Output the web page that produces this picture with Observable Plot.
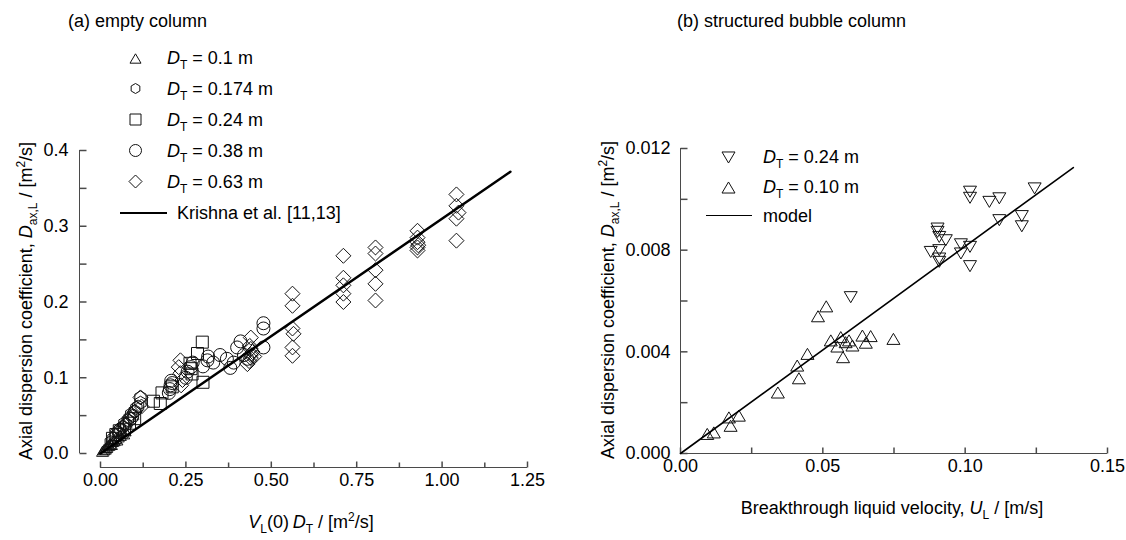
<!DOCTYPE html>
<html>
<head>
<meta charset="utf-8">
<script src="https://cdn.jsdelivr.net/npm/d3@7"></script>
<script src="https://cdn.jsdelivr.net/npm/@observablehq/plot@0.6"></script>
<style>
html,body{margin:0;padding:0;background:#fff;}
#chart{position:relative;width:1126px;height:540px;overflow:hidden;font-family:"Liberation Sans",Arial,sans-serif;color:#000;}
#chart svg{position:absolute;left:0;top:0;}
.t{position:absolute;font-size:18px;line-height:18px;white-space:nowrap;}
.t sub{font-size:12px;line-height:0;vertical-align:-5px;}
.t sup{font-size:12px;line-height:0;vertical-align:7px;}
.sw{position:absolute;height:0;}
</style>
</head>
<body>
<div id="chart"></div>
<script>
// ---------------- data: panel (a) empty column ----------------
// [V_L(0)*D_T, D_ax,L]
const dt010 = [[0.006,0.003],[0.010,0.005],[0.014,0.006],[0.018,0.008],[0.020,0.010],[0.025,0.011],[0.028,0.013],[0.032,0.012],[0.035,0.016],[0.040,0.017],[0.044,0.020],[0.048,0.018],[0.052,0.022],[0.058,0.024],[0.062,0.027],[0.068,0.026],[0.072,0.030]];
const dt0174 = [[0.030,0.015],[0.038,0.020],[0.045,0.024],[0.052,0.028],[0.058,0.032],[0.065,0.035],[0.070,0.040],[0.075,0.038],[0.080,0.044],[0.085,0.047],[0.090,0.052],[0.095,0.050],[0.100,0.056],[0.105,0.060],[0.110,0.062],[0.117,0.067],[0.117,0.074]];
const dt024 = [[0.035,0.020],[0.045,0.025],[0.055,0.030],[0.070,0.032],[0.085,0.040],[0.100,0.046],[0.155,0.069],[0.175,0.066],[0.180,0.080],[0.210,0.088],[0.262,0.119],[0.265,0.112],[0.268,0.105],[0.284,0.132],[0.298,0.147],[0.300,0.094]];
const dt038 = [[0.200,0.080],[0.203,0.085],[0.205,0.090],[0.207,0.096],[0.210,0.093],[0.250,0.100],[0.255,0.108],[0.265,0.114],[0.270,0.120],[0.300,0.115],[0.313,0.123],[0.315,0.128],[0.330,0.120],[0.350,0.130],[0.370,0.125],[0.380,0.113],[0.390,0.120],[0.400,0.140],[0.410,0.148],[0.420,0.130],[0.430,0.125],[0.477,0.140],[0.477,0.165],[0.477,0.172]];
const dt063 = [[0.050,0.030],[0.070,0.038],[0.090,0.045],[0.100,0.055],[0.117,0.074],[0.120,0.062],
  [0.229,0.114],[0.234,0.123],[0.234,0.106],[0.240,0.097],[0.236,0.090],
  [0.430,0.118],[0.435,0.122],[0.440,0.126],[0.440,0.130],[0.445,0.134],[0.440,0.138],[0.437,0.142],[0.440,0.153],[0.450,0.128],
  [0.562,0.211],[0.562,0.195],[0.562,0.165],[0.565,0.158],[0.562,0.140],[0.562,0.129],
  [0.711,0.261],[0.711,0.232],[0.711,0.222],[0.711,0.211],[0.711,0.200],
  [0.805,0.272],[0.805,0.264],[0.805,0.242],[0.805,0.224],[0.805,0.202],
  [0.928,0.294],[0.928,0.285],[0.928,0.279],[0.928,0.272],[0.928,0.268],[0.930,0.275],
  [1.042,0.342],[1.042,0.327],[1.048,0.318],[1.042,0.310],[1.042,0.281]];
const krishna = [[0, 0], [1.2, 0.372]];
const aXTicks = [0, 0.25, 0.5, 0.75, 1.0, 1.25];
const aXMinor = [0.125, 0.375, 0.625, 0.875, 1.125];
const aYTicks = [0, 0.1, 0.2, 0.3, 0.4];
const aYMinor = [0.05, 0.15, 0.25, 0.35];

// ---------------- data: panel (b) structured bubble column ----------------
// [U_L, D_ax,L]
const sb024 = [[0.0598,0.00615],[0.0879,0.00793],[0.0903,0.00885],[0.0903,0.00872],[0.0909,0.00852],[0.0932,0.00839],[0.0909,0.00800],[0.0909,0.00767],[0.0909,0.00754],[0.0985,0.00823],[0.0985,0.00787],[0.1017,0.00813],[0.1017,0.00737],[0.1017,0.01030],[0.1017,0.01006],[0.1085,0.00990],[0.1120,0.01004],[0.1120,0.00918],[0.1199,0.00934],[0.1199,0.00894],[0.1244,0.01043]];
const sb010 = [[0.0094,0.00077],[0.0117,0.00083],[0.0170,0.00142],[0.0176,0.00109],[0.0205,0.00149],[0.0342,0.00240],[0.0410,0.00346],[0.0416,0.00296],[0.0446,0.00392],[0.0483,0.00540],[0.0512,0.00579],[0.0528,0.00445],[0.0551,0.00421],[0.0563,0.00458],[0.0571,0.00379],[0.0580,0.00438],[0.0592,0.00445],[0.0604,0.00425],[0.0639,0.00464],[0.0651,0.00436],[0.0668,0.00462],[0.0748,0.00451]];
const model = [[0, 0], [0.138, 0.01125]];
const bXTicks = [0, 0.05, 0.10, 0.15];
const bXMinor = [0.025, 0.075, 0.125];
const bYTicks = [0, 0.004, 0.008, 0.012];
const bYMinor = [0.002, 0.006, 0.010];

// ---------------- styling ----------------
const FONT = '"Liberation Sans", Arial, sans-serif';
const INK = "#111";
const AX = "#4a4a4a";

function sym(fn) { return {draw(c, size) { fn(c, Math.sqrt(size / Math.PI)); }}; }
const triUp = sym((c, r) => { const h = r * 0.85; c.moveTo(0, -h); c.lineTo(r, h); c.lineTo(-r, h); c.closePath(); });
const triDown = sym((c, r) => { const h = r * 0.85; c.moveTo(0, h); c.lineTo(r, -h); c.lineTo(-r, -h); c.closePath(); });
const square = sym((c, r) => { c.moveTo(-r, -r); c.lineTo(r, -r); c.lineTo(r, r); c.lineTo(-r, r); c.closePath(); });
const circle = sym((c, r) => { c.moveTo(r, 0); c.arc(0, 0, r, 0, 2 * Math.PI); c.closePath(); });
const diamond = sym((c, r) => { c.moveTo(0, -r); c.lineTo(r, 0); c.lineTo(0, r); c.lineTo(-r, 0); c.closePath(); });
const hexagon = sym((c, r) => { for (let k = 0; k < 6; k++) { const a = -Math.PI / 2 + k * Math.PI / 3; const x = r * Math.cos(a), y = r * Math.sin(a); if (k) c.lineTo(x, y); else c.moveTo(x, y); } c.closePath(); });
const tickRight = len => ({draw(c) { c.moveTo(0, 0); c.lineTo(len, 0); }});
const tickUp = len => ({draw(c) { c.moveTo(0, 0); c.lineTo(0, -len); }});

const X = d => d[0], Y = d => d[1];
const pts = (data, symbol, r) => Plot.dot(data, {x: X, y: Y, symbol, r, stroke: INK, fill: "none", strokeWidth: 1});
const legendDot = (symbol, r, dx, dy) => Plot.dot([0], {frameAnchor: "top-left", dx, dy, symbol, r, stroke: INK, fill: "none", strokeWidth: 1});

// Panel (a): frame x 100..527, y 150..453 ; y-axis line at x=79, x-axis line at y=467
const A = {left: 100, right: 527, top: 150, bottom: 453};
const plotA = Plot.plot({
  width: 1126, height: 540,
  marginLeft: A.left, marginRight: 1126 - A.right, marginTop: A.top, marginBottom: 540 - A.bottom,
  x: {domain: [aXTicks[0], aXTicks[aXTicks.length - 1]], axis: null},
  y: {domain: [aYTicks[0], aYTicks[aYTicks.length - 1]], axis: null},
  style: {background: "transparent", fontFamily: FONT, overflow: "visible"},
  marks: [
    Plot.ruleX([aXTicks[0]], {y1: aYTicks[0], y2: aYTicks[aYTicks.length - 1], dx: -21, stroke: AX, strokeWidth: 1}),
    Plot.ruleY([aYTicks[0]], {x1: aXTicks[0], x2: aXTicks[aXTicks.length - 1], dy: 14, stroke: AX, strokeWidth: 1}),
    Plot.dot(aYTicks.concat(aYMinor), {y: d => d, frameAnchor: "left", dx: -21, symbol: tickRight(7), stroke: AX, fill: "none"}),
    Plot.dot(aXTicks, {x: d => d, frameAnchor: "bottom", dy: 14, symbol: tickUp(6), stroke: AX, fill: "none"}),
    Plot.dot(aXMinor, {x: d => d, frameAnchor: "bottom", dy: 14, symbol: tickUp(5), stroke: AX, fill: "none"}),
    Plot.text(aYTicks, {y: d => d, frameAnchor: "left", dx: -32, text: d => d.toFixed(1), textAnchor: "end", fontSize: 18, fill: "#000"}),
    Plot.text(aXTicks, {x: d => d, frameAnchor: "bottom", dy: 32, text: d => d.toFixed(2), fontSize: 18, fill: "#000"}),
    pts(dt010, triUp, 6),
    pts(dt0174, hexagon, 6.5),
    pts(dt024, square, 6),
    pts(dt038, circle, 6.5),
    pts(dt063, diamond, 7.5),
    Plot.line(krishna, {x: X, y: Y, stroke: "#000", strokeWidth: 2.5}),
    // legend symbols
    legendDot(triUp, 5.5, 35, -92),
    legendDot(hexagon, 5, 35, -62),
    legendDot(square, 5.5, 35, -31),
    legendDot(circle, 6, 35, 0),
    legendDot(diamond, 6.5, 35, 31)
  ]
});

// Panel (b): frame x 680..1107, y 148..453
const B = {left: 680, right: 1107, top: 148, bottom: 453};
const plotB = Plot.plot({
  width: 1126, height: 540,
  marginLeft: B.left, marginRight: 1126 - B.right, marginTop: B.top, marginBottom: 540 - B.bottom,
  x: {domain: [bXTicks[0], bXTicks[bXTicks.length - 1]], axis: null},
  y: {domain: [bYTicks[0], bYTicks[bYTicks.length - 1]], axis: null},
  style: {background: "transparent", fontFamily: FONT, overflow: "visible"},
  marks: [
    Plot.ruleX([bXTicks[0]], {y1: bYTicks[0], y2: bYTicks[bYTicks.length - 1], stroke: AX, strokeWidth: 1}),
    Plot.ruleY([bYTicks[0]], {x1: bXTicks[0], x2: bXTicks[bXTicks.length - 1], stroke: AX, strokeWidth: 1}),
    Plot.dot(bYTicks.concat(bYMinor), {y: d => d, frameAnchor: "left", symbol: tickRight(7), stroke: AX, fill: "none"}),
    Plot.dot(bXTicks.concat(bXMinor), {x: d => d, frameAnchor: "bottom", symbol: tickUp(6), stroke: AX, fill: "none"}),
    Plot.text(bYTicks, {y: d => d, frameAnchor: "left", dx: -10, text: d => d.toFixed(3), textAnchor: "end", fontSize: 18, fill: "#000"}),
    Plot.text(bXTicks, {x: d => d, frameAnchor: "bottom", dy: 18, text: d => d.toFixed(2), fontSize: 18, fill: "#000"}),
    pts(sb010, triUp, 6.5),
    pts(sb024, triDown, 6.5),
    Plot.line(model, {x: X, y: Y, stroke: "#000", strokeWidth: 1.6}),
    legendDot(triDown, 6.5, 48, 9),
    legendDot(triUp, 6.5, 48, 39)
  ]
});

const chart = document.getElementById("chart");
chart.appendChild(plotA);
chart.appendChild(plotB);

function label(html, x, y, anchor = "start", rotate = 0) {
  const d = document.createElement("div");
  d.className = "t";
  d.innerHTML = html;
  d.style.left = x + "px";
  d.style.top = y + "px";
  const ax = anchor === "middle" ? "-50%" : anchor === "end" ? "-100%" : "0";
  d.style.transform = `translate(${ax},-50%)` + (rotate ? ` rotate(${rotate}deg)` : "");
  chart.appendChild(d);
}
function swatch(x1, x2, y, w) {
  const d = document.createElement("div");
  d.className = "sw";
  d.style.left = x1 + "px";
  d.style.width = (x2 - x1) + "px";
  d.style.top = (y - w / 2) + "px";
  d.style.borderTop = w + "px solid #000";
  chart.appendChild(d);
}

const DT = "<i>D</i><sub>T</sub>";
label("(a) empty column", 68, 21);
label("(b) structured bubble column", 677, 21);

const legA = ["0.1", "0.174", "0.24", "0.38", "0.63"];
legA.forEach((v, i) => label(`${DT} = ${v} m`, 167, 58 + i * 31));
swatch(120, 167, 213, 2.5);
label("Krishna et al. [11,13]", 177, 213);

label(`${DT} = 0.24 m`, 763, 157);
label(`${DT} = 0.10 m`, 763, 187);
swatch(706, 752, 216, 1.6);
label("model", 763, 216);

const yTitle = "Axial dispersion coefficient, <i>D</i><sub>ax,L</sub> / [m<sup>2</sup>/s]";
label(yTitle, 26, 301, "middle", -90);
label(yTitle, 608, 300, "middle", -90);
label("<i>V</i><sub>L</sub>(0)&#8201;<i>D</i><sub>T</sub> / [m<sup>2</sup>/s]", 311, 522, "middle");
label("Breakthrough liquid velocity, <i>U</i><sub>L</sub> / [m/s]", 892, 508, "middle");
</script>
</body>
</html>
